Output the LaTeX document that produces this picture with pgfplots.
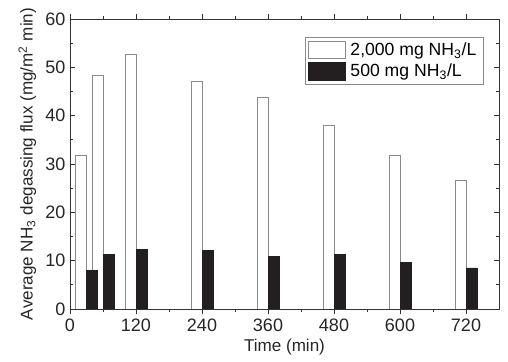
\documentclass[border=0pt]{standalone}
\usepackage{fontspec}
\setmainfont{Liberation Sans}
\usepackage{pgfplots}
\pgfplotsset{compat=1.18}
\usetikzlibrary{calc}
\definecolor{barblack}{HTML}{231F20}
\definecolor{edgegray}{HTML}{8A8A8A}
\definecolor{axgray}{HTML}{333333}
\begin{document}
\begin{tikzpicture}
\begin{axis}[
  scale only axis, width=321.75pt, height=217.5pt,
  xmin=0, xmax=780, ymin=0, ymax=60,
  xtick={0,120,240,360,480,600,720}, minor x tick num=1,
  ytick={0,10,20,30,40,50,60}, minor y tick num=1,
  tick align=inside, xtick pos=both, ytick pos=both,
  major tick length=4pt, minor tick length=2.2pt,
  axis line style={axgray, line width=0.6pt},
  every tick/.style={axgray, line width=0.6pt},
  /pgf/number format/assume math mode=true,
  /pgf/number format/1000 sep={},
  ticklabel style={font=\fontsize{13.5}{15}\selectfont, text=black!85},
  xlabel={Time (min)},
  ylabel={Average NH\textsubscript{3} degassing flux (mg/m\textsuperscript{2} min)},
  label style={font=\fontsize{12.8}{14}\selectfont, text=black!85},
  ylabel style={yshift=0pt},
  xlabel style={yshift=1pt},
  ybar=0pt, bar width=20,
  legend style={at={(0.965,0.938)}, anchor=north east, draw=edgegray,
    font=\fontsize{13.2}{15}\selectfont, row sep=1pt, inner sep=2pt,
    nodes={inner xsep=3.5pt}},
  legend cell align=left,
  legend image code/.code={\draw[#1] (0pt,-6.5pt) rectangle (28pt,6.5pt);},
]
\addplot[bar shift=-10, fill=white, draw=edgegray, line width=0.6pt] coordinates {
  (30,31.7) (60,48.3) (120,52.7) (240,47.0) (360,43.7) (480,37.9) (600,31.7) (720,26.7)};
\addlegendentry{2,000 mg NH\textsubscript{3}/L}
\addplot[bar shift=10, fill=barblack, draw=barblack, line width=0.6pt] coordinates {
  (30,8.0) (60,11.3) (120,12.4) (240,12.2) (360,10.8) (480,11.2) (600,9.7) (720,8.5)};
\addlegendentry{500 mg NH\textsubscript{3}/L}
\end{axis}
\useasboundingbox ($(current axis.south west)+(-52.5pt,-39.75pt)$) rectangle ($(current axis.north east)+(6.75pt,14.25pt)$);
\end{tikzpicture}
\end{document}
